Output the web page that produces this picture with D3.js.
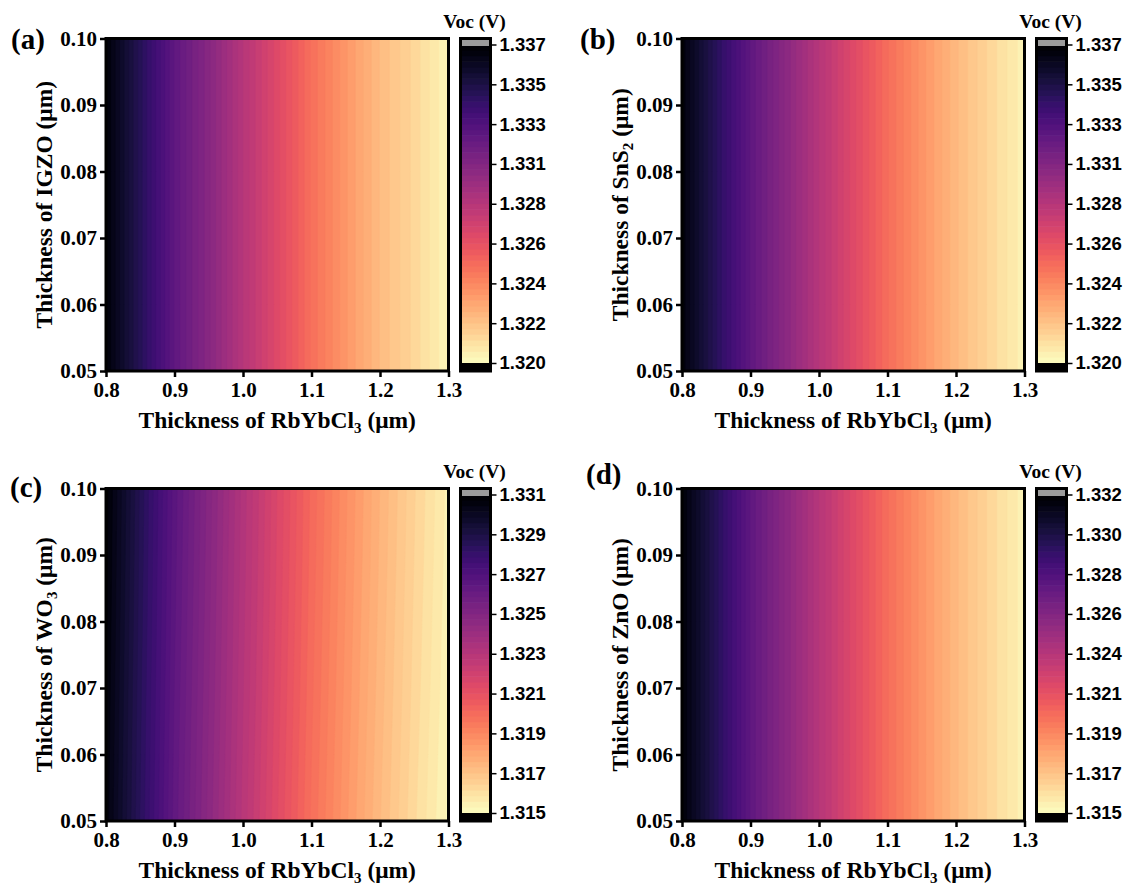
<!DOCTYPE html>
<html>
<head>
<meta charset="utf-8">
<script src="https://cdn.jsdelivr.net/npm/d3@7"></script>
<style>
  html, body { margin: 0; padding: 0; background: #fff; }
  svg { display: block; }
  .serif { font-family: "Liberation Serif", "Times New Roman", serif; font-weight: bold; fill: #000; }
  .sans { font-family: "Liberation Sans", Arial, sans-serif; font-weight: bold; fill: #000; }
</style>
</head>
<body>
<svg id="chart" width="1132" height="886"></svg>
<script>
// Absorber (RbYbCl3) thickness grid, µm
const absorberThickness = [0.80, 0.85, 0.90, 0.95, 1.00, 1.05, 1.10, 1.15, 1.20, 1.25, 1.30];
// ETL thickness grid, µm (rows of each Voc table, bottom to top)
const etlThickness = [0.05, 0.06, 0.07, 0.08, 0.09, 0.10];

const xTickValues = [0.8, 0.9, 1.0, 1.1, 1.2, 1.3];
const yTickValues = [0.05, 0.06, 0.07, 0.08, 0.09, 0.10];

// Voc (V) tables: one row per ETL thickness
const vocIGZO = [
  [1.3367, 1.3344, 1.3321, 1.3304, 1.3285, 1.3268, 1.3251, 1.3237, 1.3224, 1.3214, 1.3203],
  [1.3367, 1.3344, 1.3321, 1.3304, 1.3285, 1.3268, 1.3251, 1.3237, 1.3224, 1.3214, 1.3203],
  [1.3367, 1.3344, 1.3321, 1.3304, 1.3285, 1.3268, 1.3251, 1.3237, 1.3224, 1.3214, 1.3203],
  [1.3367, 1.3344, 1.3321, 1.3304, 1.3285, 1.3268, 1.3251, 1.3237, 1.3224, 1.3214, 1.3203],
  [1.3367, 1.3344, 1.3321, 1.3304, 1.3285, 1.3268, 1.3251, 1.3237, 1.3224, 1.3214, 1.3203],
  [1.3367, 1.3344, 1.3321, 1.3304, 1.3285, 1.3268, 1.3251, 1.3237, 1.3224, 1.3214, 1.3203]
];
const vocSnS2 = [
  [1.3366, 1.3343, 1.3321, 1.3303, 1.3285, 1.3268, 1.3252, 1.3238, 1.3225, 1.3214, 1.3204],
  [1.3366, 1.3343, 1.3321, 1.3303, 1.3285, 1.3268, 1.3252, 1.3238, 1.3225, 1.3214, 1.3204],
  [1.3366, 1.3343, 1.3321, 1.3303, 1.3285, 1.3268, 1.3252, 1.3238, 1.3225, 1.3214, 1.3204],
  [1.3366, 1.3343, 1.3321, 1.3303, 1.3285, 1.3268, 1.3252, 1.3238, 1.3225, 1.3214, 1.3204],
  [1.3366, 1.3343, 1.3321, 1.3303, 1.3285, 1.3268, 1.3252, 1.3238, 1.3225, 1.3214, 1.3204],
  [1.3366, 1.3343, 1.3321, 1.3303, 1.3285, 1.3268, 1.3252, 1.3238, 1.3225, 1.3214, 1.3204]
];
const vocWO3 = [
  [1.33060, 1.32840, 1.32630, 1.32460, 1.32290, 1.32130, 1.31980, 1.31850, 1.31730, 1.31620, 1.31520],
  [1.33065, 1.32845, 1.32635, 1.32466, 1.32296, 1.32136, 1.31986, 1.31856, 1.31736, 1.31626, 1.31526],
  [1.33070, 1.32850, 1.32641, 1.32472, 1.32302, 1.32142, 1.31992, 1.31862, 1.31742, 1.31632, 1.31532],
  [1.33075, 1.32856, 1.32647, 1.32477, 1.32307, 1.32147, 1.31997, 1.31867, 1.31747, 1.31637, 1.31537],
  [1.33080, 1.32861, 1.32652, 1.32482, 1.32312, 1.32152, 1.32002, 1.31872, 1.31752, 1.31642, 1.31542],
  [1.33084, 1.32865, 1.32656, 1.32486, 1.32316, 1.32156, 1.32006, 1.31876, 1.31756, 1.31646, 1.31546]
];
const vocZnO = [
  [1.3317, 1.3294, 1.3271, 1.3253, 1.3235, 1.3218, 1.3202, 1.3188, 1.3175, 1.3164, 1.3154],
  [1.3317, 1.3294, 1.3271, 1.3253, 1.3235, 1.3218, 1.3202, 1.3188, 1.3175, 1.3164, 1.3154],
  [1.3317, 1.3294, 1.3271, 1.3253, 1.3235, 1.3218, 1.3202, 1.3188, 1.3175, 1.3164, 1.3154],
  [1.3317, 1.3294, 1.3271, 1.3253, 1.3235, 1.3218, 1.3202, 1.3188, 1.3175, 1.3164, 1.3154],
  [1.3317, 1.3294, 1.3271, 1.3253, 1.3235, 1.3218, 1.3202, 1.3188, 1.3175, 1.3164, 1.3154],
  [1.3317, 1.3294, 1.3271, 1.3253, 1.3235, 1.3218, 1.3202, 1.3188, 1.3175, 1.3164, 1.3154]
];

// Colour-bar ranges and their labels (bottom to top)
const rangeIGZO = [1.320, 1.337];
const rangeSnS2 = [1.320, 1.337];
const rangeWO3  = [1.315, 1.331];
const rangeZnO  = [1.315, 1.332];
const labelsIGZO = ["1.320", "1.322", "1.324", "1.326", "1.328", "1.331", "1.333", "1.335", "1.337"];
const labelsSnS2 = ["1.320", "1.322", "1.324", "1.326", "1.328", "1.331", "1.333", "1.335", "1.337"];
const labelsWO3  = ["1.315", "1.317", "1.319", "1.321", "1.323", "1.325", "1.327", "1.329", "1.331"];
const labelsZnO  = ["1.315", "1.317", "1.319", "1.321", "1.324", "1.326", "1.328", "1.330", "1.332"];

const panelTags = ["(a)", "(b)", "(c)", "(d)"];
const etlNames = [["IGZO", ""], ["SnS", "2"], ["WO", "3"], ["ZnO", ""]];
const colorbarTitle = "Voc (V)";

// ---------------------------------------------------------------------------
const LEVELS = 56;
const svg = d3.select("#chart");

const panels = [
  { tag: panelTags[0], etl: etlNames[0], voc: vocIGZO, range: rangeIGZO, labels: labelsIGZO, ox: 0,   oy: 0,   tagX: 11,  tagY: 49 },
  { tag: panelTags[1], etl: etlNames[1], voc: vocSnS2, range: rangeSnS2, labels: labelsSnS2, ox: 576, oy: 0,   tagX: 580, tagY: 49 },
  { tag: panelTags[2], etl: etlNames[2], voc: vocWO3,  range: rangeWO3,  labels: labelsWO3,  ox: 0,   oy: 450, tagX: 10,  tagY: 497 },
  { tag: panelTags[3], etl: etlNames[3], voc: vocZnO,  range: rangeZnO,  labels: labelsZnO,  ox: 576, oy: 450, tagX: 586, tagY: 484 }
];

// geometry of one panel, relative to its origin
const L = 106, R = 448.5, T = 38.5, B = 371;
const CB_L = 460.5, CB_R = 490.5, CB_TOP_TICK = 44.5, CB_BOTTOM_TICK = 363;

panels.forEach((p, pi) => {
  const g = svg.append("g").attr("transform", `translate(${p.ox},${p.oy})`);
  const x = d3.scaleLinear().domain([0.8, 1.3]).range([L, R]);
  const y = d3.scaleLinear().domain([0.05, 0.10]).range([B, T]);
  const [lo, hi] = p.range;
  const step = (hi - lo) / LEVELS;
  const bandColor = k => d3.interpolateMagma(1 - (k + 0.5) / LEVELS);

  // --- filled contour map ---
  const nx = absorberThickness.length, ny = etlThickness.length;
  const flat = [];
  for (let j = 0; j < ny; j++) for (let i = 0; i < nx; i++) flat.push(p.voc[j][i]);
  const thresholds = d3.range(LEVELS).map(k => lo + k * step);
  const bands = d3.contours().size([nx, ny]).thresholds(thresholds)(flat);
  const dxg = absorberThickness[1] - absorberThickness[0];
  const dyg = etlThickness[1] - etlThickness[0];
  const gridProjection = d3.geoTransform({
    point(gx, gy) {
      this.stream.point(x(absorberThickness[0] + (gx - 0.5) * dxg),
                        y(etlThickness[0] + (gy - 0.5) * dyg));
    }
  });
  const path = d3.geoPath(gridProjection);
  const clipId = `clip-${pi}`;
  g.append("clipPath").attr("id", clipId)
    .append("rect").attr("x", L).attr("y", T).attr("width", R - L).attr("height", B - T);
  g.append("g").attr("clip-path", `url(#${clipId})`)
    .selectAll("path").data(bands).join("path")
    .attr("d", path)
    .attr("fill", (d, k) => bandColor(k))
    .attr("stroke", (d, k) => bandColor(k))
    .attr("stroke-width", 0.6);

  // --- axes ---
  const xAxis = d3.axisBottom(x).tickValues(xTickValues).tickFormat(d3.format(".1f"))
    .tickSize(6).tickPadding(5);
  const yAxis = d3.axisLeft(y).tickValues(yTickValues).tickFormat(d3.format(".2f"))
    .tickSize(6).tickPadding(3);
  const styleAxis = s => {
    s.select(".domain").remove();
    s.selectAll(".tick line").attr("stroke", "#000").attr("stroke-width", 2.5);
    s.selectAll(".tick text").attr("class", "serif").style("font-size", "21px")
      .attr("fill", "#000");
  };
  g.append("g").attr("transform", `translate(0,${B})`).call(xAxis).call(styleAxis);
  g.append("g").attr("transform", `translate(${L},0)`).call(yAxis).call(styleAxis);

  // frame
  g.append("rect").attr("x", L).attr("y", T).attr("width", R - L).attr("height", B - T)
    .attr("fill", "none").attr("stroke", "#000").attr("stroke-width", 3);

  // axis titles
  g.append("text").attr("class", "serif").style("font-size", "23.5px")
    .attr("x", (L + R) / 2).attr("y", 428).attr("text-anchor", "middle")
    .call(t => {
      t.append("tspan").text("Thickness of RbYbCl");
      t.append("tspan").text("3").style("font-size", "15px").attr("dy", 5);
      t.append("tspan").text(" (μm)").attr("dy", -5);
    });
  g.append("text").attr("class", "serif").style("font-size", "23.5px")
    .attr("transform", `translate(52,${(T + B) / 2}) rotate(-90)`).attr("text-anchor", "middle")
    .call(t => {
      t.append("tspan").text("Thickness of " + p.etl[0]);
      if (p.etl[1]) {
        t.append("tspan").text(p.etl[1]).style("font-size", "15px").attr("dy", 5);
        t.append("tspan").text(" (μm)").attr("dy", -5);
      } else {
        t.append("tspan").text(" (μm)");
      }
    });

  // panel tag
  svg.append("text").attr("class", "serif").style("font-size", "29px")
    .attr("x", p.tagX).attr("y", p.tagY).text(p.tag);

  // --- colour bar ---
  const cb = d3.scaleLinear().domain([lo, hi]).range([CB_BOTTOM_TICK, CB_TOP_TICK]);
  const cbg = g.append("g");
  cbg.selectAll("rect.band").data(d3.range(LEVELS)).join("rect")
    .attr("class", "band")
    .attr("x", CB_L).attr("width", CB_R - CB_L)
    .attr("y", k => cb(lo + (k + 1) * step) - 0.3)
    .attr("height", k => cb(lo + k * step) - cb(lo + (k + 1) * step) + 0.6)
    .attr("fill", k => bandColor(k));
  // above-range and below-range swatches
  cbg.append("rect").attr("x", CB_L).attr("width", CB_R - CB_L)
    .attr("y", T).attr("height", cb(hi) + 1.5 - T).attr("fill", "#9b9b9b");
  cbg.append("rect").attr("x", CB_L).attr("width", CB_R - CB_L)
    .attr("y", cb(lo)).attr("height", B - cb(lo)).attr("fill", "#000");
  cbg.append("rect").attr("x", CB_L).attr("y", T).attr("width", CB_R - CB_L).attr("height", B - T)
    .attr("fill", "none").attr("stroke", "#000").attr("stroke-width", 3);

  const cbTicks = d3.range(p.labels.length).map(i => lo + i * (hi - lo) / (p.labels.length - 1));
  const cbAxis = d3.axisRight(cb).tickValues(cbTicks).tickFormat((d, i) => p.labels[i])
    .tickSize(6).tickPadding(3);
  g.append("g").attr("transform", `translate(${CB_R},0)`).call(cbAxis)
    .call(s => {
      s.select(".domain").remove();
      s.selectAll(".tick line").attr("stroke", "#000").attr("stroke-width", 1.5);
      s.selectAll(".tick text").attr("class", "sans").style("font-size", "18.5px").attr("fill", "#000");
    });

  g.append("text").attr("class", "serif").style("font-size", "19.5px")
    .attr("x", 474.5).attr("y", 28).attr("text-anchor", "middle").text(colorbarTitle);
});
</script>
</body>
</html>
